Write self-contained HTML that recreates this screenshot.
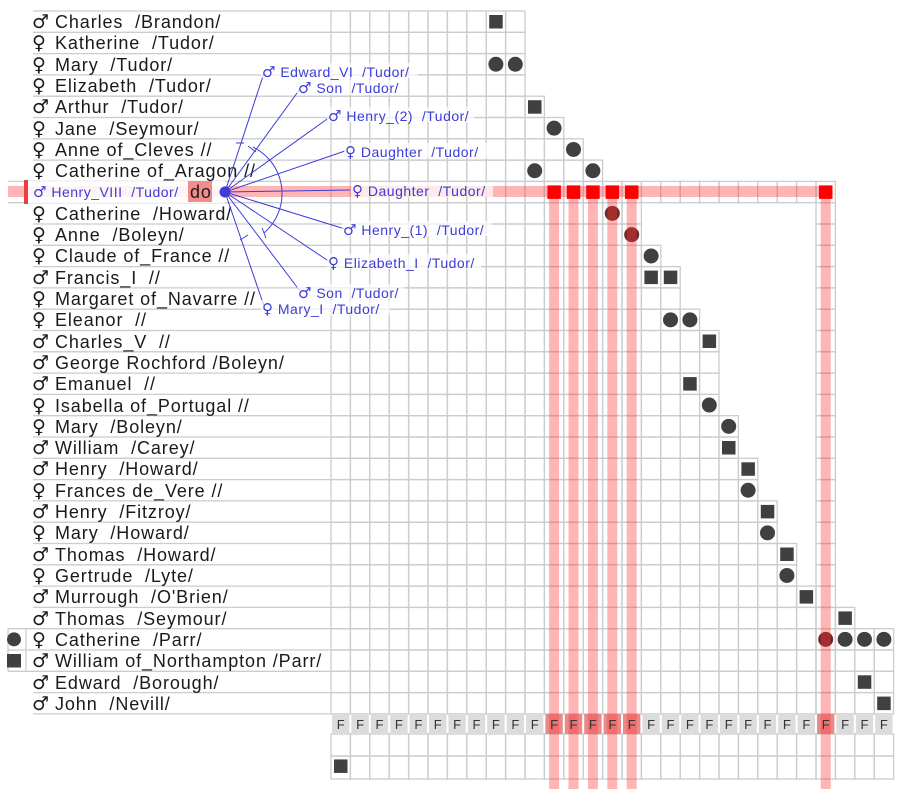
<!DOCTYPE html>
<html><head><meta charset="utf-8">
<style>
html,body{margin:0;padding:0;background:#fff;}
svg{display:block;}
text{white-space:pre;}
.n{font-family:"Liberation Sans","DejaVu Sans",sans-serif;font-size:18px;letter-spacing:0.9px;fill:#1a1a1a;}
.sy{font-family:"DejaVu Sans",sans-serif;font-size:19px;fill:#1a1a1a;}
.b{font-family:"Liberation Sans","DejaVu Sans",sans-serif;font-size:14px;letter-spacing:0.5px;fill:#3c3cd8;}
.bs{font-family:"DejaVu Sans",sans-serif;font-size:15px;}
.f{font-family:"Liberation Sans",sans-serif;font-size:13px;fill:#333;text-anchor:middle;}
</style></head><body>
<svg id="s" width="900" height="789" viewBox="0 0 900 789" xmlns="http://www.w3.org/2000/svg" xml:space="preserve">
<g id="grid" stroke="#cccccc" stroke-width="1.3" fill="none"></g>
<g id="frow"></g>
<g id="marks"></g>
<g class="sy">
<text x="32" y="28">♂</text><text x="32" y="49">♀</text><text x="32" y="71">♀</text><text x="32" y="92">♀</text><text x="32" y="113">♂</text><text x="32" y="135">♀</text><text x="32" y="156">♀</text><text x="32" y="177">♀</text>
<text x="32" y="220">♀</text><text x="32" y="241">♀</text><text x="32" y="262">♀</text><text x="32" y="284">♂</text><text x="32" y="305">♀</text><text x="32" y="326">♀</text><text x="32" y="348">♂</text><text x="32" y="369">♂</text><text x="32" y="390">♂</text><text x="32" y="412">♀</text><text x="32" y="433">♀</text><text x="32" y="454">♂</text><text x="32" y="475">♂</text><text x="32" y="497">♀</text><text x="32" y="518">♂</text><text x="32" y="539">♀</text><text x="32" y="561">♂</text><text x="32" y="582">♀</text><text x="32" y="603">♂</text><text x="32" y="625">♂</text><text x="32" y="646">♀</text><text x="32" y="667">♂</text><text x="32" y="689">♂</text><text x="32" y="710">♂</text>
</g>
<g class="n">
<text x="55" y="28">Charles  /Brandon/</text>
<text x="55" y="49">Katherine  /Tudor/</text>
<text x="55" y="71">Mary  /Tudor/</text>
<text x="55" y="92">Elizabeth  /Tudor/</text>
<text x="55" y="113">Arthur  /Tudor/</text>
<text x="55" y="135">Jane  /Seymour/</text>
<text x="55" y="156">Anne of_Cleves //</text>
<text x="55" y="177">Catherine of_Aragon //</text>
<text x="55" y="220">Catherine  /Howard/</text>
<text x="55" y="241">Anne  /Boleyn/</text>
<text x="55" y="262">Claude of_France //</text>
<text x="55" y="284">Francis_I  //</text>
<text x="55" y="305">Margaret of_Navarre //</text>
<text x="55" y="326">Eleanor  //</text>
<text x="55" y="348">Charles_V  //</text>
<text x="55" y="369">George Rochford /Boleyn/</text>
<text x="55" y="390">Emanuel  //</text>
<text x="55" y="412">Isabella of_Portugal //</text>
<text x="55" y="433">Mary  /Boleyn/</text>
<text x="55" y="454">William  /Carey/</text>
<text x="55" y="475">Henry  /Howard/</text>
<text x="55" y="497">Frances de_Vere //</text>
<text x="55" y="518">Henry  /Fitzroy/</text>
<text x="55" y="539">Mary  /Howard/</text>
<text x="55" y="561">Thomas  /Howard/</text>
<text x="55" y="582">Gertrude  /Lyte/</text>
<text x="55" y="603">Murrough  /O'Brien/</text>
<text x="55" y="625">Thomas  /Seymour/</text>
<text x="55" y="646">Catherine  /Parr/</text>
<text x="55" y="667">William of_Northampton /Parr/</text>
<text x="55" y="689">Edward  /Borough/</text>
<text x="55" y="710">John  /Nevill/</text>
</g>
<g id="bands"></g>
<rect x="28" y="181" width="197" height="22" fill="#fff" opacity="0.85"/>
<rect x="24" y="180" width="4" height="24" fill="#e84040"/>
<rect x="188" y="181" width="24" height="21" fill="#f07070" opacity="0.8"/>
<text class="n" x="190" y="198">do</text>
<text class="b" x="33" y="197"><tspan class="bs">♂</tspan> Henry_VIII  /Tudor/</text>
<g stroke="#3c3cd8" stroke-width="1" fill="none">
<line x1="225" y1="192" x2="264" y2="73"/>
<line x1="225" y1="192" x2="300" y2="89"/>
<line x1="225" y1="192" x2="330" y2="117"/>
<line x1="225" y1="192" x2="345" y2="151"/>
<line x1="225" y1="192" x2="350" y2="190"/>
<line x1="225" y1="192" x2="345" y2="229"/>
<line x1="225" y1="192" x2="330" y2="262"/>
<line x1="225" y1="192" x2="300" y2="291"/>
<line x1="225" y1="192" x2="264" y2="306"/>
<path d="M253 147 A52 52 0 0 1 264 233"/>
<line x1="236" y1="143" x2="244" y2="143"/>
<line x1="248" y1="146" x2="256" y2="152"/>
<line x1="240" y1="240" x2="248" y2="235"/>
<line x1="262" y1="228" x2="266" y2="238"/>
</g>
<circle cx="225" cy="192" r="5.5" fill="#3c3cd8"/>
<g fill="#fff" opacity="0.7">
<rect x="261" y="63" width="157" height="15"/>
<rect x="297" y="80" width="107" height="15"/>
<rect x="327" y="107" width="147" height="15"/>
<rect x="344" y="143" width="145" height="15"/>
<rect x="351" y="182" width="142" height="15"/>
<rect x="342" y="221" width="150" height="15"/>
<rect x="327" y="254" width="154" height="15"/>
<rect x="297" y="284" width="107" height="15"/>
<rect x="261" y="300" width="129" height="15"/>
</g>
<g class="b">
<text x="262" y="77"><tspan class="bs">♂</tspan> Edward_VI  /Tudor/</text>
<text x="298" y="93"><tspan class="bs">♂</tspan> Son  /Tudor/</text>
<text x="328" y="121"><tspan class="bs">♂</tspan> Henry_(2)  /Tudor/</text>
<text x="345" y="157"><tspan class="bs">♀</tspan> Daughter  /Tudor/</text>
<text x="352" y="196"><tspan class="bs">♀</tspan> Daughter  /Tudor/</text>
<text x="343" y="235"><tspan class="bs">♂</tspan> Henry_(1)  /Tudor/</text>
<text x="328" y="268"><tspan class="bs">♀</tspan> Elizabeth_I  /Tudor/</text>
<text x="298" y="298"><tspan class="bs">♂</tspan> Son  /Tudor/</text>
<text x="262" y="314"><tspan class="bs">♀</tspan> Mary_I  /Tudor/</text>
</g>
<g class="f">
<text x="340.7" y="729">F</text><text x="360.1" y="729">F</text><text x="379.5" y="729">F</text><text x="398.9" y="729">F</text><text x="418.3" y="729">F</text><text x="437.7" y="729">F</text><text x="457.1" y="729">F</text><text x="476.5" y="729">F</text><text x="495.9" y="729">F</text><text x="515.3" y="729">F</text><text x="534.7" y="729">F</text><text x="554.1" y="729">F</text><text x="573.5" y="729">F</text><text x="592.9" y="729">F</text><text x="612.3" y="729">F</text><text x="631.7" y="729">F</text><text x="651.1" y="729">F</text><text x="670.5" y="729">F</text><text x="689.9" y="729">F</text><text x="709.3" y="729">F</text><text x="728.7" y="729">F</text><text x="748.1" y="729">F</text><text x="767.5" y="729">F</text><text x="786.9" y="729">F</text><text x="806.3" y="729">F</text><text x="825.7" y="729">F</text><text x="845.1" y="729">F</text><text x="864.5" y="729">F</text><text x="883.9" y="729">F</text>
</g>
</svg>
<script>
var NS="http://www.w3.org/2000/svg";
function el(p,t,a){var e=document.createElementNS(NS,t);for(var k in a)e.setAttribute(k,a[k]);document.getElementById(p).appendChild(e);return e;}
var X0=331,CW=19.4,Y0=11,RH=21.3;
function cx(c){return X0+c*CW;} function ry(r){return Y0+r*RH;}
var ext=[9,9,9,9,10,11,12,13,25,15,15,16,17,17,18,19,19,19,19,20,20,21,21,22,22,23,23,24,26,28,28,28,28];
for(var r=0;r<=33;r++){var xs=(r>=29&&r<=31)?8:33; if(r==8||r==9)xs=8; el("grid","line",{x1:xs,y1:ry(r),x2:X0,y2:ry(r)});}
el("grid","line",{x1:26,y1:ry(29),x2:26,y2:ry(31)});
el("grid","line",{x1:8,y1:ry(29),x2:8,y2:ry(31)});
for(var r=0;r<33;r++){for(var c=0;c<=ext[r];c++){el("grid","rect",{x:cx(c),y:ry(r),width:CW,height:RH});}}
for(var r=9;r<33;r++){el("grid","rect",{x:cx(25),y:ry(r),width:CW,height:RH});}
var fy=714,fh=20;
for(var c=0;c<29;c++){var red=(c>=11&&c<=15)||c==25;
 el("frow","rect",{x:cx(c)+1,y:fy,width:CW-2,height:fh,fill:red?"#e88a8a":"#dcdcdc"});
 el("grid","rect",{x:cx(c),y:734,width:CW,height:22});
 el("grid","rect",{x:cx(c),y:756,width:CW,height:23});}
function sq(c,r,col){el("marks","rect",{x:cx(c)+3,y:ry(r)+4,width:13.5,height:13.5,fill:col||"#404040"});}
function ci(c,r,col){el("marks","circle",{cx:cx(c)+CW/2,cy:ry(r)+RH/2,r:7.5,fill:col||"#404040"});}
sq(8,0);ci(8,2);ci(9,2);sq(10,4);ci(11,5);ci(12,6);ci(10,7);ci(13,7);
ci(14,9,"#6b2626");ci(15,10,"#6b2626");ci(16,11);sq(16,12);sq(17,12);ci(17,14);ci(18,14);
sq(19,15);sq(18,17);ci(19,18);ci(20,19);sq(20,20);sq(21,21);ci(21,22);sq(22,23);ci(22,24);
sq(23,25);ci(23,26);sq(24,27);sq(26,28);ci(25,29,"#6b2626");ci(26,29);ci(27,29);ci(28,29);sq(27,31);sq(28,32);
el("marks","circle",{cx:14,cy:ry(29)+RH/2,r:7,fill:"#404040"});
el("marks","rect",{x:7,y:ry(30)+4,width:14,height:13.5,fill:"#404040"});
sq(0,34.95,"#404040");
var cols=[11,12,13,14,15,25];
cols.forEach(function(c){el("bands","rect",{x:cx(c)+CW/2-5,y:197,width:10,height:592,fill:"rgba(255,60,60,0.38)"});});
el("bands","rect",{x:8,y:186,width:cx(25)+CW/2+5-8,height:11,fill:"rgba(255,60,60,0.38)"});
cols.forEach(function(c){el("bands","rect",{x:cx(c)+3,y:ry(8)+4,width:13.5,height:13.5,fill:"#ff0000"});});
</script>
</body></html>
